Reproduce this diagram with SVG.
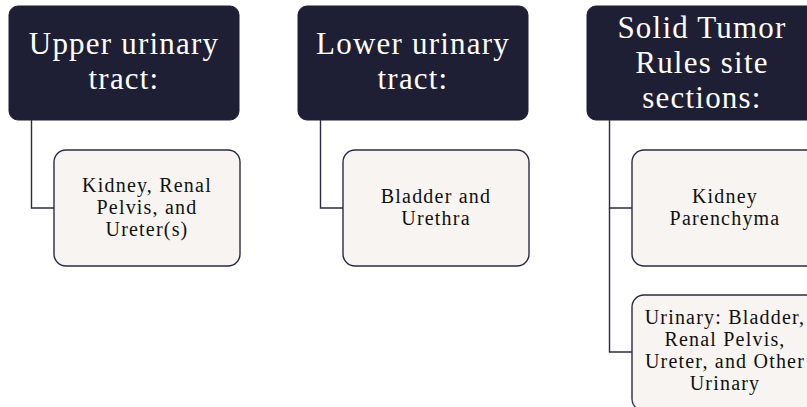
<svg xmlns="http://www.w3.org/2000/svg" width="807" height="407" viewBox="0 0 807 407">
<style>
.head{fill:#1e1f35;stroke:#1e1f35;stroke-width:1}
.child{fill:#f7f4f1;stroke:#2b2c42;stroke-width:1.4}
.ht{font-family:"Liberation Serif","Times New Roman",serif;font-size:31px;fill:#ffffff;text-anchor:middle;letter-spacing:1.2px}
.ct{font-family:"Liberation Serif","Times New Roman",serif;font-size:20px;fill:#111111;text-anchor:middle;letter-spacing:1.2px}
.conn{fill:none;stroke:#2b2c42;stroke-width:1.4}
</style>
<rect width="807" height="407" fill="#ffffff"/>
<g id="connectors">
<path class="conn" d="M31.5,120 V208 H54"/>
<path class="conn" d="M320.5,120 V208 H343"/>
<path class="conn" d="M609.5,120 V208 H632"/>
<path class="conn" d="M609.5,208 V352 H632"/>
</g>
<g id="n1">
<rect class="head" x="9" y="6" width="230" height="114" rx="9"/>
<text class="ht" x="124" y="54">Upper urinary</text>
<text class="ht" x="124" y="89">tract:</text>
</g>
<g id="n1a">
<rect class="child" x="54" y="150" width="186" height="116" rx="12"/>
<text class="ct" x="147" y="192">Kidney, Renal</text>
<text class="ct" x="147" y="214">Pelvis, and</text>
<text class="ct" x="147" y="236">Ureter(s)</text>
</g>
<g id="n2">
<rect class="head" x="298" y="6" width="230" height="114" rx="9"/>
<text class="ht" x="413" y="54">Lower urinary</text>
<text class="ht" x="413" y="89">tract:</text>
</g>
<g id="n2a">
<rect class="child" x="343" y="150" width="186" height="116" rx="12"/>
<text class="ct" x="436" y="203">Bladder and</text>
<text class="ct" x="436" y="225">Urethra</text>
</g>
<g id="n3">
<rect class="head" x="587" y="6" width="230" height="114" rx="9"/>
<text class="ht" x="702" y="38">Solid Tumor</text>
<text class="ht" x="702" y="73">Rules site</text>
<text class="ht" x="702" y="108">sections:</text>
</g>
<g id="n3a">
<rect class="child" x="632" y="150" width="186" height="116" rx="12"/>
<text class="ct" x="725" y="203">Kidney</text>
<text class="ct" x="725" y="225">Parenchyma</text>
</g>
<g id="n3b">
<rect class="child" x="632" y="295" width="186" height="116" rx="12"/>
<text class="ct" x="725" y="324">Urinary: Bladder,</text>
<text class="ct" x="725" y="346">Renal Pelvis,</text>
<text class="ct" x="725" y="368">Ureter, and Other</text>
<text class="ct" x="725" y="390">Urinary</text>
</g>
</svg>
